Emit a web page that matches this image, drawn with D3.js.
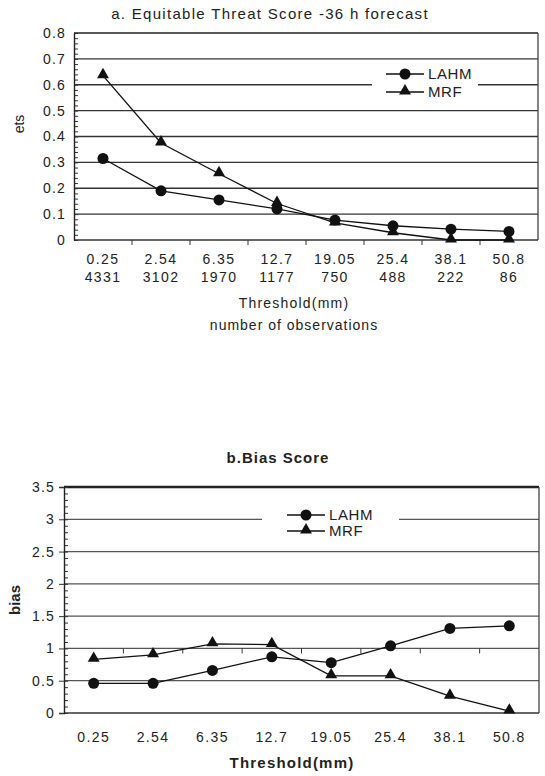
<!DOCTYPE html>
<html>
<head>
<meta charset="utf-8">
<script src="https://cdn.jsdelivr.net/npm/d3@7"></script>
<style>
  body { margin: 0; background: #fff; }
  svg text { font-family: "Liberation Sans", Arial, sans-serif; fill: #222; }
</style>
</head>
<body>
<div class="charts"></div>
<script>
// data
var thresholds = ["0.25", "2.54", "6.35", "12.7", "19.05", "25.4", "38.1", "50.8"];
var observations = ["4331", "3102", "1970", "1177", "750", "488", "222", "86"];

var etsLAHM = [0.315, 0.19, 0.155, 0.12, 0.077, 0.055, 0.042, 0.033];
var etsMRF = [0.635, 0.375, 0.256, 0.141, 0.066, 0.028, 0, 0];

var biasLAHM = [0.46, 0.46, 0.66, 0.87, 0.78, 1.04, 1.31, 1.35];
var biasMRF = [0.83, 0.9, 1.07, 1.06, 0.575, 0.575, 0.26, 0.03];

var etsTicks = [0, 0.1, 0.2, 0.3, 0.4, 0.5, 0.6, 0.7, 0.8];
var biasTicks = [0, 0.5, 1, 1.5, 2, 2.5, 3, 3.5];

var svgWidth = 545;
var svgHeight = 776;

var svg = d3.select(".charts")
    .append("svg")
    .attr("width", svgWidth)
    .attr("height", svgHeight);

// triangle marker
var tri = d3.symbol().type(d3.symbolTriangle).size(62);

function drawPanel(opt) {
    var x = d3.scaleBand()
        .domain(thresholds)
        .range([opt.left, opt.right])
        .padding(0);

    var y = d3.scaleLinear()
        .domain([0, opt.max])
        .range([opt.bottom, opt.top]);

    var g = svg.append("g");

    // gridlines
    g.selectAll("line.grid")
        .data(opt.ticks.filter(d => d > 0 && d < opt.max))
        .enter()
        .append("line")
        .attr("x1", opt.left)
        .attr("x2", opt.right)
        .attr("y1", d => y(d))
        .attr("y2", d => y(d))
        .attr("stroke", opt.gridColor)
        .attr("stroke-width", 1.3);

    // box: top, right, bottom
    g.append("line")
        .attr("x1", opt.left).attr("x2", opt.right)
        .attr("y1", y(opt.max)).attr("y2", y(opt.max))
        .attr("stroke", "#222").attr("stroke-width", opt.topWidth);
    g.append("line")
        .attr("x1", opt.right).attr("x2", opt.right)
        .attr("y1", y(opt.max)).attr("y2", y(0))
        .attr("stroke", "#444").attr("stroke-width", 1.3);
    g.append("line")
        .attr("x1", opt.left).attr("x2", opt.right)
        .attr("y1", y(0)).attr("y2", y(0))
        .attr("stroke", "#333").attr("stroke-width", 1.3);

    // legend box blanks out the gridline behind it
    g.append("rect")
        .attr("x", opt.legend.x0)
        .attr("y", opt.legend.y - 10)
        .attr("width", opt.legend.x1 - opt.legend.x0)
        .attr("height", 36)
        .attr("fill", "#fff");

    // y axis with minor ticks inside
    var minor = d3.range(0, opt.max + 1e-9, opt.minorStep);
    g.append("g")
        .attr("transform", `translate(${opt.left},0)`)
        .call(d3.axisRight(y).tickValues(minor).tickSize(4).tickFormat(""))
        .call(a => a.select(".domain").remove())
        .selectAll("line").attr("stroke", "#333");

    var yAxis = g.append("g")
        .attr("transform", `translate(${opt.left},0)`)
        .call(d3.axisLeft(y).tickValues(opt.ticks).tickSize(opt.majorTick).tickPadding(opt.tickPad)
            .tickFormat(d => d3.format("~g")(d)));
    yAxis.select(".domain").attr("stroke", "#222").attr("stroke-width", 1.4);
    yAxis.selectAll("line").attr("stroke", "#333");
    yAxis.selectAll("text").style("font-size", "14px").style("letter-spacing", "1.2px");

    // x axis: labels centred on bands, ticks at band edges
    var xAxis = g.append("g")
        .attr("transform", `translate(0,${opt.bottom})`)
        .call(d3.axisBottom(x).tickSize(0).tickPadding(opt.xLabelPad));
    xAxis.select(".domain").remove();
    xAxis.selectAll("text").style("font-size", "14px").style("letter-spacing", "1.4px");

    g.selectAll("line.xtick")
        .data(thresholds.slice(1))
        .enter()
        .append("line")
        .attr("x1", d => x(d))
        .attr("x2", d => x(d))
        .attr("y1", y(opt.xCross))
        .attr("y2", y(opt.xCross) + 5)
        .attr("stroke", "#333");

    // lines
    var line = d3.line()
        .x((d, i) => x(thresholds[i]) + x.bandwidth() / 2)
        .y(d => y(d));

    [opt.lahm, opt.mrf].forEach(function(series) {
        g.append("path")
            .datum(series)
            .attr("d", line)
            .attr("fill", "none")
            .attr("stroke", "#111")
            .attr("stroke-width", 1.3);
    });

    g.selectAll("path.tri")
        .data(opt.mrf)
        .enter()
        .append("path")
        .attr("d", tri)
        .attr("transform", (d, i) => `translate(${x(thresholds[i]) + x.bandwidth() / 2},${y(d) - 1})`)
        .attr("fill", "#111");

    g.selectAll("circle.pt")
        .data(opt.lahm)
        .enter()
        .append("circle")
        .attr("cx", (d, i) => x(thresholds[i]) + x.bandwidth() / 2)
        .attr("cy", d => y(d))
        .attr("r", 5.5)
        .attr("fill", "#111");

    // legend entries
    var lg = opt.legend;
    ["LAHM", "MRF"].forEach(function(name, i) {
        var ly = lg.y + i * lg.gap;
        g.append("line")
            .attr("x1", lg.lx).attr("x2", lg.lx + 38)
            .attr("y1", ly).attr("y2", ly)
            .attr("stroke", "#111").attr("stroke-width", 1.3);
        if (i === 0) {
            g.append("circle").attr("cx", lg.lx + 19).attr("cy", ly).attr("r", 5.5).attr("fill", "#111");
        } else {
            g.append("path").attr("d", tri).attr("transform", `translate(${lg.lx + 19},${ly - 1})`).attr("fill", "#111");
        }
        g.append("text")
            .attr("x", lg.lx + 42)
            .attr("y", ly)
            .attr("dy", "0.35em")
            .style("font-size", "15px")
            .style("letter-spacing", "0.6px")
            .text(name);
    });

    return {g: g, x: x, y: y};
}

// panel a
var a = drawPanel({
    left: 74, right: 538, top: 33, bottom: 240,
    max: 0.8, ticks: etsTicks, minorStep: 0.02,
    majorTick: 0, tickPad: 8, xLabelPad: 14, xCross: 0,
    gridColor: "#333", topWidth: 1.4,
    lahm: etsLAHM, mrf: etsMRF,
    legend: {x0: 372, x1: 478, lx: 386, y: 74, gap: 18}
});

a.g.append("text")
    .attr("x", 270).attr("y", 19)
    .attr("text-anchor", "middle")
    .style("font-size", "15px")
    .style("letter-spacing", "1.3px")
    .text("a. Equitable Threat Score -36 h forecast");

a.g.selectAll("text.obs")
    .data(observations)
    .enter()
    .append("text")
    .attr("x", (d, i) => a.x(thresholds[i]) + a.x.bandwidth() / 2)
    .attr("y", 282)
    .attr("text-anchor", "middle")
    .style("font-size", "14px")
    .style("letter-spacing", "1.4px")
    .text(d => d);

a.g.append("text")
    .attr("x", 294).attr("y", 308)
    .attr("text-anchor", "middle")
    .style("font-size", "14px")
    .style("letter-spacing", "1.2px")
    .text("Threshold(mm)");

a.g.append("text")
    .attr("x", 294).attr("y", 330)
    .attr("text-anchor", "middle")
    .style("font-size", "14px")
    .style("letter-spacing", "1px")
    .text("number of observations");

a.g.append("text")
    .attr("transform", "translate(24,124) rotate(-90)")
    .attr("text-anchor", "middle")
    .style("font-size", "14px")
    .text("ets");

// panel b
var b = drawPanel({
    left: 64, right: 539, top: 487, bottom: 713,
    max: 3.5, ticks: biasTicks, minorStep: 0.1,
    majorTick: 5, tickPad: 4, xLabelPad: 19, xCross: 1,
    gridColor: "#555", topWidth: 2.4,
    lahm: biasLAHM, mrf: biasMRF,
    legend: {x0: 262, x1: 399, lx: 287, y: 515, gap: 16}
});

b.g.append("text")
    .attr("x", 278).attr("y", 463)
    .attr("text-anchor", "middle")
    .style("font-size", "15px")
    .style("font-weight", "bold")
    .style("letter-spacing", "1px")
    .text("b.Bias Score");

b.g.append("text")
    .attr("x", 292).attr("y", 768)
    .attr("text-anchor", "middle")
    .style("font-size", "15px")
    .style("font-weight", "bold")
    .style("letter-spacing", "1.2px")
    .text("Threshold(mm)");

b.g.append("text")
    .attr("transform", "translate(20,600) rotate(-90)")
    .attr("text-anchor", "middle")
    .style("font-size", "15px")
    .style("font-weight", "bold")
    .text("bias");
</script>
</body>
</html>
